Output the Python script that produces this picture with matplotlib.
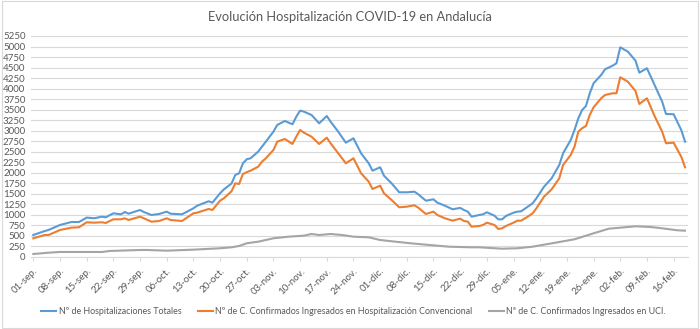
import matplotlib.pyplot as plt
from matplotlib.patches import Rectangle

plt.rcParams['font.family'] = ['Lato', 'DejaVu Sans']

# dias contados desde el 01-sep-2020
dias = [0, 3, 4, 6, 7, 10, 12, 14, 16, 18, 19, 21, 23, 24, 25, 28, 29, 31, 33, 35,
        36, 39, 42, 43, 46, 47, 49, 50, 52, 53, 54, 55, 56, 57, 59, 60, 61, 63, 64, 66,
        68, 69, 70, 71, 73, 75, 77, 78, 80, 82, 84, 86, 88, 89, 91, 92, 94, 96, 98, 100,
        101, 103, 105, 106, 108, 110, 112, 113, 114, 115, 117, 118, 119, 121, 122, 123, 124, 126, 127, 128,
        130, 131, 132, 134, 136, 138, 139, 141, 142, 143, 144, 145, 146, 147, 149, 150, 152, 153, 154, 156,
        158, 159, 161, 163, 165, 166, 168, 170, 171]

totales = [516, 610, 635, 714, 754, 825, 825, 930, 914, 952, 937, 1032, 1008, 1063, 1023, 1111, 1063, 992, 1016, 1071,
           1023, 1008, 1150, 1213, 1318, 1285, 1508, 1600, 1740, 1944, 1984, 2222, 2317, 2341, 2499, 2617, 2736, 2974, 3133, 3228,
           3150, 3331, 3474, 3450, 3371, 3173, 3347, 3212, 2974, 2712, 2817, 2460, 2222, 2046, 2127, 1927, 1746, 1532, 1532, 1546,
           1484, 1332, 1365, 1285, 1213, 1128, 1160, 1111, 1071, 952, 992, 1008, 1056, 975, 889, 889, 968, 1047, 1071, 1080,
           1206, 1270, 1389, 1665, 1865, 2182, 2460, 2776, 3014, 3292, 3490, 3585, 3887, 4125, 4323, 4458, 4544, 4600, 4981, 4877,
           4663, 4378, 4482, 4085, 3688, 3395, 3388, 3014, 2736]

convencional = [437, 516, 516, 595, 635, 690, 700, 818, 809, 818, 802, 889, 889, 913, 873, 952, 913, 833, 849, 913,
                873, 849, 1032, 1047, 1135, 1111, 1332, 1389, 1555, 1746, 1730, 1967, 2010, 2046, 2141, 2260, 2341, 2538, 2736, 2800,
                2681, 2855, 3014, 2950, 2855, 2681, 2831, 2698, 2460, 2222, 2341, 1984, 1784, 1611, 1689, 1508, 1349, 1175, 1190, 1223,
                1166, 1016, 1071, 992, 913, 857, 905, 849, 833, 714, 730, 754, 809, 754, 659, 675, 730, 809, 857, 857,
                968, 1032, 1151, 1427, 1603, 1865, 2182, 2420, 2617, 2974, 3055, 3109, 3371, 3554, 3768, 3847, 3887, 3887, 4268, 4163,
                3942, 3633, 3768, 3347, 2974, 2698, 2712, 2379, 2127]

dias_uci = [0, 4, 7, 18, 20, 28, 30, 35, 42, 49, 52, 54, 56, 59, 63, 67, 71, 73, 75, 78,
            81, 84, 88, 91, 95, 99, 104, 109, 115, 117, 123, 127, 131, 137, 142, 147, 151, 154, 158, 162,
            165, 169, 171]
uci = [64, 95, 112, 112, 136, 159, 159, 143, 167, 200, 223, 255, 319, 357, 437, 476, 500, 540, 516, 540,
       516, 476, 461, 397, 357, 319, 278, 238, 223, 223, 190, 200, 238, 333, 414, 556, 666, 690, 723, 706,
       675, 628, 619]

semanas = list(range(0, 169, 7))
etiquetas = ['01-sep.', '08-sep.', '15-sep.', '22-sep.', '29-sep.', '06-oct.', '13-oct.', '20-oct.',
             '27-oct.', '03-nov.', '10-nov.', '17-nov.', '24-nov.', '01-dic.', '08-dic.', '15-dic.',
             '22-dic.', '29-dic.', '05-ene.', '12-ene.', '19-ene.', '26-ene.', '02-feb.', '09-feb.', '16-feb.']

series = ['Nº de Hospitalizaciones Totales',
          'Nº de C. Confirmados Ingresados en Hospitalización Convencional',
          'Nª de C. Confirmados Ingresados en UCI.']

gris_txt = '#595959'
gris_rejilla = '#d9d9d9'

fig = plt.figure(figsize=(7, 3.29), dpi=100)
ax = fig.add_axes([0.0443, 0.2198, 0.9387, 0.6708])

l1, = ax.plot(dias, totales, color='#5B9BD5', lw=1.5)
l2, = ax.plot(dias, convencional, color='#ED7D31', lw=1.5)
l3, = ax.plot(dias_uci, uci, color='#A5A5A5', lw=1.5)

ax.set_ylim(0, 5250)
ax.set_xlim(-0.6, 171.8)
ax.set_yticks(range(0, 5251, 250))
ax.set_xticks(semanas)
ax.set_xticklabels(etiquetas, rotation=45, ha='right', rotation_mode='anchor')
ax.tick_params(axis='y', length=0, labelsize=7, labelcolor=gris_txt, pad=4)
ax.tick_params(axis='x', length=3, color=gris_rejilla, labelsize=7, labelcolor=gris_txt, pad=4)
ax.grid(axis='y', color=gris_rejilla, lw=0.8)
ax.set_axisbelow(True)
for lado in ['top', 'right', 'left']:
    ax.spines[lado].set_visible(False)
ax.spines['bottom'].set_color(gris_rejilla)

fig.text(0.5, 0.948, 'Evolución Hospitalización COVID-19 en Andalucía',
         ha='center', va='center', fontsize=9.3, color=gris_txt)

fig.legend([l1, l2, l3], series, loc='center', bbox_to_anchor=(0.505, 0.053), ncol=3,
           frameon=False, fontsize=6.4, labelcolor=gris_txt, handlelength=1.7,
           handletextpad=0.3, columnspacing=1.8)

fig.patches.append(Rectangle((0.003, 0.004), 0.994, 0.992, transform=fig.transFigure,
                             fill=False, edgecolor=gris_rejilla, lw=0.8))

fig.savefig('out.png', dpi=100)
